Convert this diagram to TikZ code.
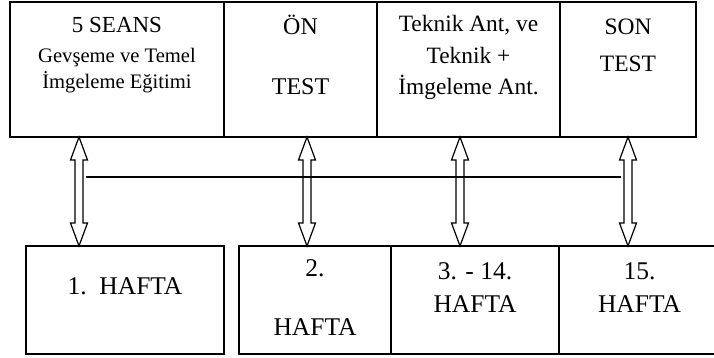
\documentclass[tikz,border=0pt]{standalone}
\usepackage{fontspec}
\setmainfont{Liberation Serif}
\usepackage{tikz}
\usetikzlibrary{calc,positioning}
\tikzset{
    topbox/.style={draw, line width=1.6pt, outer sep=0pt, inner sep=0pt,
        minimum height=135pt},
    weekbox/.style={draw, line width=1.6pt, outer sep=0pt, inner sep=0pt,
        minimum height=108pt},
    txt/.style={align=center, inner sep=0pt, anchor=base},
    arrowline/.style={line width=1.2pt, line join=miter},
    link/.style={line width=1.2pt}
}
% hollow double arrow from #1 (top tip) to #2 (bottom tip)
\newcommand\hollowarrow[2]{%
    \draw[arrowline] (#1) -- ++(-8.5,-23) -- ++(4.5,0)
        -- ($(#2)+(-4,23)$) -- ++(-4.5,0) -- (#2)
        -- ++(8.5,23) -- ++(-4.5,0)
        -- ($(#1)+(4,-23)$) -- ++(4.5,0) -- cycle;}

\begin{document}
\begin{tikzpicture}[x=1pt,y=1pt]
\useasboundingbox (0,0) rectangle (714,358);

% Kutular ust
\node[topbox, minimum width=214pt, anchor=north west] (t1) at (10,356) {};
\node[topbox, minimum width=153pt, right=0pt of t1] (t2) {};
\node[topbox, minimum width=183pt, right=0pt of t2] (t3) {};
\node[topbox, minimum width=136pt, right=0pt of t3] (t4) {};

% Kutular alt
\node[weekbox, minimum width=198pt, anchor=south west] (b1) at (26,4) {};
\node[weekbox, minimum width=152pt, right=15pt of b1] (b2) {};
\node[weekbox, minimum width=168pt, right=0pt of b2] (b3) {};
\node[weekbox, minimum width=161pt, right=0pt of b3] (b4) {};

% Yazilar
\node[txt, font=\fontsize{20.6}{26}\selectfont] (t1x) at ($(t1.north)+(0,-87)$)
    {{\fontsize{23}{26}\selectfont 5 SEANS}\\[4pt] Gevşeme ve Temel\\ İmgeleme Eğitimi};
\node[txt, font=\fontsize{24}{60}\selectfont] (t2x) at ($(t2.north)+(0,-93)$) {ÖN\\ TEST};
\node[txt, font=\fontsize{23.4}{31.5}\selectfont] (t3x) at ($(t3.north)+(0,-93)$)
    {Teknik Ant, ve\\ Teknik +\\ İmgeleme Ant.};
\node[txt, font=\fontsize{23.5}{37}\selectfont] (t4x) at ($(t4.north)+(0,-70)$) {SON\\ TEST};

\node[txt, font=\fontsize{25.5}{33}\selectfont] (b1x) at ($(b1.north)+(0,-49)$) {1.\ \ HAFTA};
\node[txt, font=\fontsize{25.5}{59}\selectfont] (b2x) at ($(b2.north)+(0,-90)$) {2.\\ HAFTA};
\node[txt, font=\fontsize{25.5}{33}\selectfont] (b3x) at ($(b3.north)+(0,-67)$) {3. - 14.\\ HAFTA};
\node[txt, font=\fontsize{25.5}{33}\selectfont] (b4x) at ($(b4.north)+(0,-67)$) {15.\\ HAFTA};

% Oklar
\foreach \i/\x in {1/79, 2/307, 3/460, 4/628}{
    \coordinate (up\i) at (\x,0 |- t1.south);
    \coordinate (dn\i) at (\x,0 |- b1.north);
    \hollowarrow{up\i}{dn\i}
}

% Yatay cizgi
\draw[link] ($(up1)+(7,-40)$) -- ($(up4)+(-7,-40)$);

\end{tikzpicture}
\end{document}
